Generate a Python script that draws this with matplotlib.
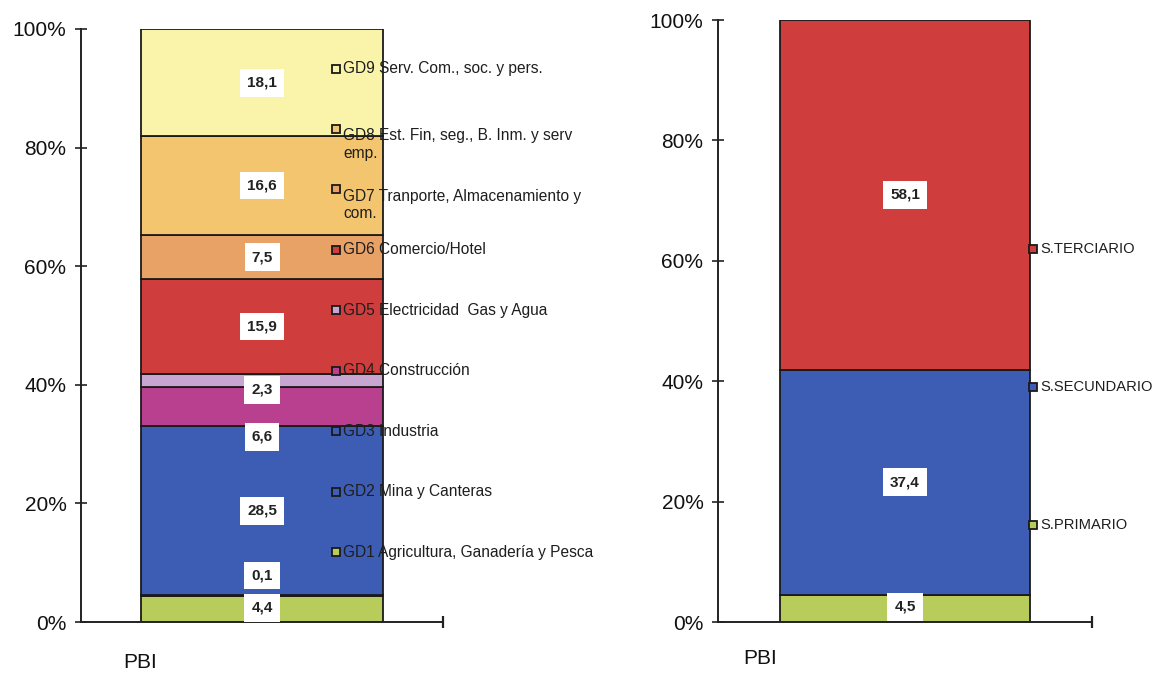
import matplotlib
matplotlib.use("Agg")
import matplotlib.pyplot as plt
from matplotlib import font_manager

# ---- data ----
groups = ["GD1 Agricultura, Ganadería y Pesca", "GD2 Mina y Canteras", "GD3 Industria",
          "GD4 Construcción", "GD5 Electricidad  Gas y Agua", "GD6 Comercio/Hotel",
          "GD7 Tranporte, Almacenamiento y\ncom.", "GD8 Est. Fin, seg., B. Inm. y serv\nemp.",
          "GD9 Serv. Com., soc. y pers."]
group_values = [4.4, 0.1, 28.5, 6.6, 2.3, 15.9, 7.5, 16.6, 18.1]

sectors = ["S.PRIMARIO", "S.SECUNDARIO", "S.TERCIARIO"]
sector_values = [4.5, 37.4, 58.1]

category = "PBI"
yticks = [0, 20, 40, 60, 80, 100]
ytick_labels = ["0%", "20%", "40%", "60%", "80%", "100%"]

# ---- styling ----
group_colors = ["#b8cc5c", "#3f5fb4", "#3c5db3", "#b8408e", "#c9a6d2",
                "#cf3e3c", "#e9a266", "#f3c56e", "#faf4aa"]
sector_colors = ["#b8cc5c", "#3c5db3", "#cf3e3c"]

avail = {f.name for f in font_manager.fontManager.ttflist}
narrow = "Liberation Sans Narrow" if "Liberation Sans Narrow" in avail else "Liberation Sans"
plt.rcParams["font.family"] = ["Liberation Sans", "DejaVu Sans"]

fig = plt.figure(figsize=(11.54, 6.73), dpi=100)
W, H = 1154, 673


def make_axes(x0, x1, ytop, ybot):
    return fig.add_axes([x0 / W, (H - ybot) / H, (x1 - x0) / W, (ybot - ytop) / H])


def style_axes(ax):
    ax.set_xlim(0, 1)
    ax.set_ylim(0, 100)
    for s in ("top", "right"):
        ax.spines[s].set_visible(False)
    for s in ("left", "bottom"):
        ax.spines[s].set_color("#222222")
        ax.spines[s].set_linewidth(1.4)
    ax.set_yticks(yticks)
    ax.set_yticklabels(ytick_labels, fontsize=15, color="#111111")
    ax.tick_params(axis="y", direction="inout", length=9, width=1.2, pad=6, colors="#222222",
                   labelcolor="#111111")
    ax.set_xticks([1.0])
    ax.set_xticklabels([""])
    ax.tick_params(axis="x", direction="inout", length=9, width=1.6, colors="#222222")


def stacked(ax, values, colors, nudges):
    bottom = 0.0
    for i, (v, c) in enumerate(zip(values, colors)):
        ax.bar(0.5, v, bottom=bottom, width=0.666, color=c, edgecolor="#1a1a1a",
               linewidth=1.3, zorder=2)
        ax.text(0.5, bottom + v / 2 + nudges.get(i, 0.0), f"{v:.1f}".replace(".", ","),
                ha="center", va="center", fontsize=11, fontweight="bold",
                family=[narrow, "Liberation Sans"], color="#222222", zorder=5,
                bbox=dict(boxstyle="square,pad=0.45", facecolor="white", edgecolor="none"))
        bottom += v


def legend_entries(ax, names, colors, xm, ys, fs):
    for name, c, y in zip(names, colors, ys):
        ax.plot([xm], [y], marker="s", markersize=6, markerfacecolor=c,
                markeredgecolor="#1a1a1a", markeredgewidth=1.3, zorder=6, clip_on=False)
        ax.text(xm + 0.02, y, name, ha="left", va="center", fontsize=fs,
                family=[narrow, "Liberation Sans"], color="#1e1e1e", zorder=6,
                linespacing=1.25)


# ---- left: economic groups ----
axL = make_axes(81, 443, 29, 622)
style_axes(axL)
stacked(axL, group_values, group_colors, {0: 0.2, 1: 3.4, 3: -5.1, 4: -1.6})
legend_y = [11.8 + 10.19 * i for i in range(len(groups))]
for name, c, y in zip(groups, group_colors, legend_y):
    # two-line entries keep their first line on the marker row
    yl = y - 2.6 if "\n" in name else y
    axL.plot([0.704], [y], marker="s", markersize=6, markerfacecolor=c,
             markeredgecolor="#1a1a1a", markeredgewidth=1.3, zorder=6, clip_on=False)
    axL.text(0.724, yl, name, ha="left", va="center", fontsize=11.2,
             family=[narrow, "Liberation Sans"], color="#1e1e1e", zorder=6,
             linespacing=1.2, clip_on=False)

# ---- right: sectors ----
axR = make_axes(718, 1092, 20, 622)
style_axes(axR)
stacked(axR, sector_values, sector_colors, {0: 0.25})
legend_entries(axR, sectors, sector_colors, 0.842, [16.1, 39.0, 62.0], 10.6)

# category labels
fig.text(140 / W, 1 - 663 / H, category, ha="center", va="center", fontsize=15, color="#111111")
fig.text(760 / W, 1 - 659 / H, category, ha="center", va="center", fontsize=15, color="#111111")

fig.savefig("out.png", dpi=100, facecolor="white")
